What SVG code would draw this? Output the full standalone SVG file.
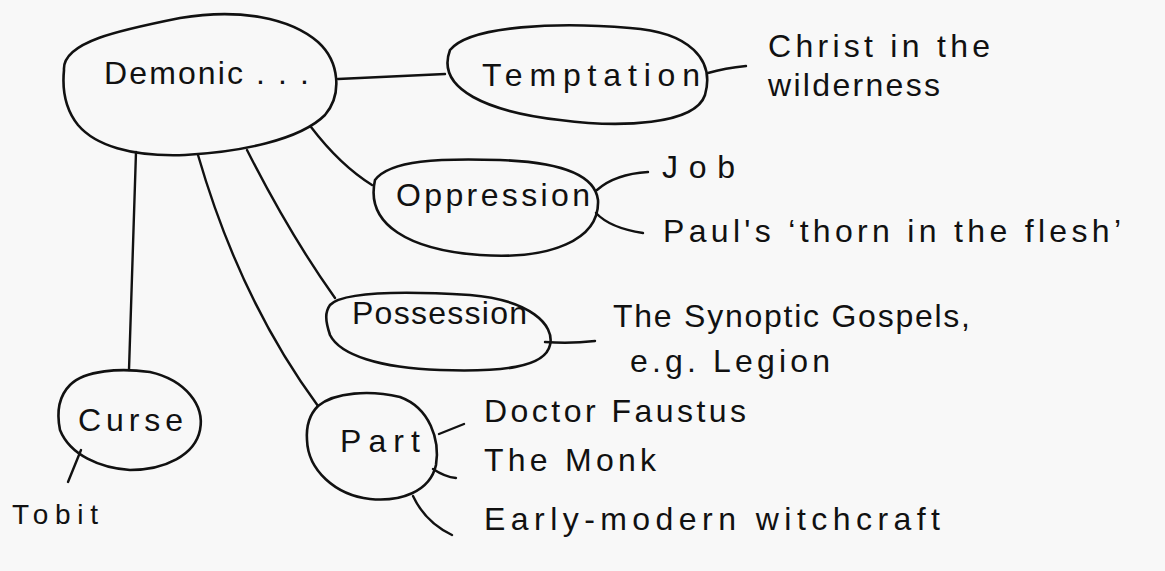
<svg xmlns="http://www.w3.org/2000/svg" width="1165" height="571" viewBox="0 0 1165 571">
<style>
.n{fill:none;stroke:#111;stroke-width:2.6;stroke-linecap:round;stroke-linejoin:round}
.c{fill:none;stroke:#111;stroke-width:2.4;stroke-linecap:round}
text{font-family:"Liberation Sans","DejaVu Sans",sans-serif;font-size:32px;fill:#111}
.s{font-size:28px}
</style>
<rect width="1165" height="571" fill="#f8f8f8"/>
<g id="connectors">
<path class="c" d="M338,79 L445,74"/>
<path class="c" d="M708,73 Q725,68 746,66"/>
<path class="c" d="M311,127 Q340,165 372,185"/>
<path class="c" d="M597,190 Q615,174 648,172"/>
<path class="c" d="M596,213 Q610,228 643,233"/>
<path class="c" d="M247,150 Q290,235 335,298"/>
<path class="c" d="M545,342 Q570,344 595,341"/>
<path class="c" d="M136,152 L129,370"/>
<path class="c" d="M81,450 L68,482"/>
<path class="c" d="M198,155 Q240,300 318,406"/>
<path class="c" d="M439,434 L464,424"/>
<path class="c" d="M433,469 Q445,477 456,478"/>
<path class="c" d="M413,496 Q425,522 452,535"/>
</g>
<g id="demonic">
<path class="n" d="M64,70 C62,42 120,30 180,18 C240,8 290,18 318,42 C340,62 342,95 325,115 C300,140 240,152 185,155 C130,157 95,145 78,125 C66,110 62,90 64,70 Z"/>
<text x="104" y="84" textLength="205" lengthAdjust="spacing">Demonic . . .</text>
</g>
<g id="temptation">
<path class="n" d="M450,50 C470,25 560,22 630,28 C690,32 715,60 705,95 C695,125 620,128 560,120 C490,112 435,90 450,50 Z"/>
<text x="482" y="86" textLength="218" lengthAdjust="spacing">Temptation</text>
</g>
<g id="christ">
<text x="768" y="57" textLength="222" lengthAdjust="spacing">Christ in the</text>
<text x="768" y="96" textLength="172" lengthAdjust="spacing">wilderness</text>
</g>
<g id="oppression">
<path class="n" d="M375,180 C390,160 440,158 500,160 C560,162 595,175 598,200 C600,240 550,260 480,255 C410,250 365,225 375,180 Z"/>
<text x="396" y="206" textLength="194" lengthAdjust="spacing">Oppression</text>
</g>
<g id="job">
<text x="662" y="178" textLength="73" lengthAdjust="spacing">Job</text>
</g>
<g id="paul">
<text x="663" y="242" textLength="458" lengthAdjust="spacing">Paul's ‘thorn in the flesh’</text>
</g>
<g id="possession">
<path class="n" d="M330,305 C345,290 420,292 470,295 C530,300 555,325 550,345 C545,368 500,372 440,370 C380,368 340,355 330,335 C325,320 325,312 330,305 Z"/>
<text x="352" y="324" textLength="175" lengthAdjust="spacing">Possession</text>
</g>
<g id="synoptic">
<text x="613" y="327" textLength="357" lengthAdjust="spacing">The Synoptic Gospels,</text>
<text x="630" y="372" textLength="200" lengthAdjust="spacing">e.g. Legion</text>
</g>
<g id="curse">
<path class="n" d="M70,385 C85,370 120,368 150,372 C185,380 205,405 200,430 C195,455 165,470 130,470 C100,468 70,455 60,430 C56,410 60,395 70,385 Z"/>
<text x="78" y="431" textLength="105" lengthAdjust="spacing">Curse</text>
</g>
<g id="tobit">
<text x="12" y="524" textLength="86" lengthAdjust="spacing" class="s">Tobit</text>
</g>
<g id="part">
<path class="n" d="M318,406 C335,392 370,390 400,397 C430,408 440,440 436,465 C430,492 400,502 370,499 C335,495 308,470 307,440 C306,425 310,414 318,406 Z"/>
<text x="340" y="452" textLength="80" lengthAdjust="spacing">Part</text>
</g>
<g id="faustus">
<text x="484" y="422" textLength="262" lengthAdjust="spacing">Doctor Faustus</text>
</g>
<g id="monk">
<text x="484" y="471" textLength="172" lengthAdjust="spacing">The Monk</text>
</g>
<g id="witchcraft">
<text x="484" y="530" textLength="456" lengthAdjust="spacing">Early-modern witchcraft</text>
</g>
</svg>
